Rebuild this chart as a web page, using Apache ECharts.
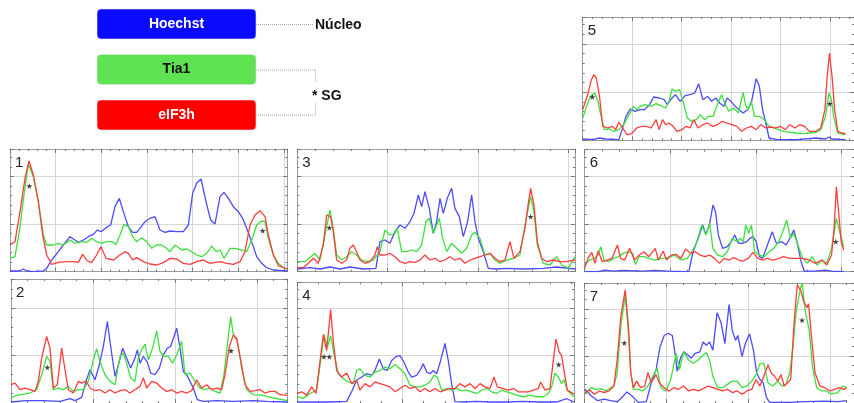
<!DOCTYPE html>
<html><head><meta charset="utf-8">
<script src="https://cdn.jsdelivr.net/npm/echarts@6/dist/echarts.min.js"></script>
<style>html,body{margin:0;padding:0;background:#fff}#c{width:854px;height:403px}</style>
</head><body><div id="c"></div>
<script>
// Intensity profiles, x and y (units: 1/3 px of the reference)
const legendNames = ["Hoechst", "Tia1", "eIF3h"];
const legendNotes = ["Núcleo", "* SG"];
const panelLabels = ["1", "2", "3", "4", "5", "6", "7"];

const p1Red = [[0,80],[15,90],[30,180],[45,280],[57,332],[70,290],[85,210],[98,110],[110,50],[125,22],[145,28],[170,30],[190,30],[205,28],[218,52],[232,32],[245,28],[260,50],[273,75],[288,40],[310,35],[330,50],[345,60],[355,55],[368,35],[380,42],[400,30],[420,23],[440,20],[460,27],[480,40],[500,38],[520,25],[540,22],[560,30],[580,35],[600,25],[630,30],[650,25],[670,22],[690,30],[705,60],[720,140],[735,170],[750,183],[765,165],[775,110],[790,50],[805,18],[820,12],[832,8]];
const p1Green = [[0,40],[15,45],[28,120],[42,230],[55,322],[70,285],[85,210],[100,110],[110,80],[130,80],[145,85],[160,80],[180,95],[195,85],[215,90],[230,88],[245,100],[260,90],[275,85],[290,90],[305,90],[318,82],[330,110],[342,142],[355,135],[368,105],[380,90],[395,102],[410,90],[425,70],[440,80],[455,80],[470,70],[480,60],[495,80],[515,65],[530,68],[545,60],[560,50],[575,45],[590,55],[605,77],[618,60],[630,65],[642,40],[660,70],[675,70],[695,65],[710,60],[725,95],[740,140],[755,152],[765,150],[775,100],[790,50],[805,25],[820,12],[832,8]];
const p1Blue = [[0,2],[30,2],[40,8],[50,2],[70,0],[100,2],[110,10],[125,35],[145,60],[160,80],[180,105],[195,95],[205,88],[220,95],[235,105],[250,112],[262,125],[273,120],[288,132],[302,140],[315,195],[328,220],[340,180],[355,135],[368,118],[380,118],[390,130],[405,150],[420,160],[435,165],[450,125],[465,118],[480,122],[500,120],[520,120],[535,140],[548,235],[560,265],[573,278],[588,210],[602,155],[615,143],[630,225],[642,238],[655,220],[670,195],[685,180],[698,160],[712,125],[725,90],[740,45],[755,25],[770,12],[790,5],[810,4],[832,2]];
const p1Stars = [[58,257],[758,123]];

const p2Red = [[0,55],[12,60],[27,40],[42,45],[57,40],[72,35],[82,65],[92,135],[107,200],[117,165],[127,45],[139,55],[152,165],[162,100],[172,40],[187,30],[202,65],[212,60],[225,67],[237,45],[252,37],[267,40],[282,30],[297,40],[312,30],[327,37],[342,40],[357,30],[372,40],[387,50],[397,75],[407,45],[422,65],[437,60],[452,45],[467,35],[482,40],[497,30],[512,35],[527,30],[542,37],[557,70],[572,45],[587,55],[602,40],[617,45],[632,40],[642,85],[655,170],[667,205],[677,195],[689,130],[702,55],[717,35],[732,37],[747,40],[762,30],[777,35],[792,35],[807,25],[829,23]];
const p2Green = [[0,15],[17,23],[37,27],[57,30],[77,40],[92,85],[107,140],[117,125],[127,40],[142,45],[157,40],[172,50],[187,35],[202,40],[217,40],[232,65],[247,130],[257,163],[267,125],[282,85],[297,65],[312,55],[327,140],[337,150],[347,120],[359,75],[372,65],[382,135],[392,160],[402,177],[412,130],[425,165],[437,217],[447,155],[459,140],[472,140],[485,120],[497,145],[512,185],[522,85],[537,90],[552,65],[567,45],[582,40],[597,45],[612,35],[627,30],[639,85],[649,175],[659,260],[667,205],[679,185],[692,105],[707,40],[727,25],[757,23],[787,15],[829,7]];
const p2Blue = [[0,3],[47,7],[97,7],[147,5],[177,13],[192,7],[212,17],[225,65],[237,100],[252,70],[265,115],[277,170],[289,245],[299,170],[312,80],[325,125],[335,165],[347,135],[359,105],[372,135],[379,160],[387,120],[397,140],[409,123],[419,90],[432,85],[445,105],[457,145],[469,165],[479,170],[489,200],[497,225],[507,165],[517,95],[527,85],[537,65],[547,45],[559,10],[577,5],[617,7],[667,5],[727,7],[767,5],[829,3]];
const p2Stars = [[109,107],[660,157]];

const p3Red = [[0,12],[18,12],[33,25],[48,40],[63,25],[78,80],[88,170],[100,165],[108,120],[118,35],[133,25],[148,35],[158,70],[168,80],[178,60],[188,35],[203,25],[218,30],[233,50],[240,75],[248,50],[263,50],[278,55],[293,45],[308,30],[323,25],[338,30],[353,28],[368,35],[383,50],[398,35],[413,40],[428,30],[443,35],[458,45],[473,35],[488,40],[503,25],[518,35],[533,40],[548,45],[563,50],[578,55],[593,40],[608,30],[623,35],[638,90],[650,40],[668,60],[683,130],[693,205],[700,250],[710,200],[720,90],[733,40],[748,30],[768,35],[788,30],[808,30],[833,35]];
const p3Green = [[0,30],[23,30],[53,55],[68,35],[83,110],[98,185],[108,130],[118,50],[133,35],[148,45],[163,60],[178,50],[183,55],[193,35],[208,30],[228,35],[248,60],[263,125],[278,110],[293,115],[300,130],[313,60],[328,60],[343,65],[358,60],[373,80],[386,150],[396,160],[408,115],[418,140],[426,160],[436,100],[448,60],[463,85],[478,70],[493,55],[508,70],[523,110],[533,118],[548,100],[563,50],[578,55],[593,35],[608,25],[628,35],[648,40],[668,50],[683,140],[700,225],[710,180],[720,80],[738,25],[758,20],[778,45],[793,20],[813,10],[833,45]];
const p3Blue = [[0,8],[38,12],[68,8],[98,14],[128,8],[158,14],[198,8],[236,10],[248,90],[263,95],[278,85],[293,120],[308,140],[323,130],[338,150],[350,175],[363,230],[373,195],[383,240],[396,190],[408,115],[418,150],[428,220],[438,175],[450,220],[463,250],[473,190],[486,165],[498,105],[511,150],[523,230],[533,150],[543,100],[558,60],[573,10],[598,8],[628,10],[678,8],[738,10],[778,14],[833,8]];
const p3Stars = [[96,132],[700,165]];

const p4Red = [[0,29],[13,34],[28,24],[43,49],[56,29],[66,109],[78,207],[88,159],[100,284],[108,189],[118,99],[133,79],[148,91],[163,59],[178,69],[188,39],[203,59],[218,49],[233,64],[248,59],[263,54],[278,49],[293,34],[308,44],[323,54],[338,44],[353,49],[368,34],[383,44],[398,34],[413,44],[428,34],[443,39],[458,44],[473,44],[488,59],[503,49],[518,59],[533,44],[548,59],[563,49],[578,44],[590,79],[600,49],[618,44],[633,39],[648,44],[663,34],[678,34],[693,34],[708,39],[723,44],[730,64],[743,39],[758,44],[768,129],[776,194],[786,154],[793,144],[800,99],[810,39],[830,27]];
const p4Green = [[0,19],[18,14],[38,29],[58,39],[70,129],[80,209],[90,169],[100,204],[110,149],[123,89],[138,74],[153,64],[168,59],[178,99],[188,104],[203,84],[218,79],[233,94],[248,99],[263,109],[278,104],[293,117],[308,104],[323,89],[338,54],[353,49],[368,49],[383,54],[398,64],[410,84],[420,79],[433,39],[448,44],[463,39],[478,44],[493,37],[508,39],[523,34],[538,29],[553,39],[568,44],[583,34],[598,29],[613,39],[628,34],[643,29],[658,24],[678,19],[698,24],[718,19],[738,19],[753,29],[763,49],[773,91],[783,79],[793,59],[800,71],[810,39],[830,19]];
const p4Blue = [[0,3],[38,3],[98,3],[148,5],[163,34],[178,69],[193,79],[208,89],[223,84],[233,99],[246,134],[258,104],[270,99],[283,129],[296,141],[308,144],[320,124],[333,94],[343,79],[358,84],[368,99],[378,119],[388,94],[398,89],[408,99],[418,89],[430,129],[443,181],[453,129],[463,59],[473,4],[498,3],[538,5],[578,3],[628,3],[678,5],[728,3],[778,3],[808,13],[830,3]];
const p4Stars = [[80,141],[96,141],[784,117]];

const p5Red = [[0,92],[14,132],[27,182],[34,197],[42,187],[52,132],[62,42],[77,37],[92,42],[102,32],[112,54],[124,37],[137,17],[152,20],[167,37],[182,42],[197,42],[212,37],[227,62],[237,32],[247,62],[257,47],[267,52],[280,42],[292,27],[307,32],[320,42],[332,37],[344,62],[357,37],[372,47],[387,52],[402,42],[417,47],[432,57],[447,52],[462,47],[477,42],[492,27],[507,37],[522,42],[537,32],[552,47],[567,37],[582,40],[597,37],[612,42],[627,32],[642,47],[657,37],[672,47],[687,42],[702,27],[722,27],[737,37],[750,92],[757,192],[764,262],[772,192],[780,92],[790,27],[802,22],[814,20]];
const p5Green = [[0,67],[12,102],[24,132],[37,142],[47,117],[57,72],[67,32],[82,34],[97,27],[112,32],[127,47],[142,74],[157,102],[167,92],[177,102],[192,107],[212,102],[227,110],[242,104],[257,97],[267,117],[277,154],[287,147],[300,152],[312,112],[324,67],[337,57],[352,62],[364,77],[377,62],[390,72],[404,72],[417,107],[430,137],[440,112],[452,87],[467,97],[482,82],[497,144],[504,107],[512,92],[522,117],[532,72],[547,72],[562,62],[577,42],[592,37],[607,32],[622,27],[642,24],[662,22],[682,20],[702,22],[722,24],[737,32],[752,72],[762,142],[770,122],[777,72],[790,22],[814,17]];
const p5Blue = [[0,4],[32,2],[52,7],[72,4],[112,2],[122,32],[134,72],[147,94],[162,87],[177,92],[192,92],[207,107],[220,130],[237,127],[252,122],[262,107],[274,124],[287,137],[302,117],[317,134],[332,137],[347,142],[359,170],[372,122],[387,132],[399,117],[412,127],[424,112],[437,102],[447,127],[459,117],[472,102],[484,92],[497,82],[510,92],[522,112],[537,185],[547,162],[557,92],[567,52],[577,7],[602,2],[662,2],[722,7],[752,4],[762,10],[772,4],[814,2]];
const p5Stars = [[30,130],[765,110]];

const p6Red = [[0,10],[10,40],[22,58],[32,25],[42,62],[55,30],[70,35],[85,40],[102,80],[112,40],[125,35],[140,70],[155,35],[170,50],[185,60],[200,45],[220,70],[230,35],[245,62],[255,35],[270,50],[285,52],[300,40],[315,68],[330,55],[345,60],[360,50],[375,45],[390,50],[405,40],[420,25],[435,40],[450,35],[465,42],[480,35],[495,32],[510,40],[525,58],[540,40],[555,35],[570,40],[585,35],[600,38],[620,45],[640,40],[660,40],[680,40],[700,35],[720,25],[740,35],[755,20],[770,50],[778,130],[785,255],[792,180],[800,90],[808,65]];
const p6Green = [[0,20],[15,35],[30,40],[42,52],[50,75],[60,35],[75,30],[90,40],[105,45],[120,55],[135,60],[150,55],[158,22],[170,45],[185,45],[200,40],[220,35],[240,40],[260,42],[280,50],[300,35],[320,40],[335,60],[350,90],[365,140],[378,110],[390,145],[400,70],[415,50],[430,45],[445,60],[460,100],[475,90],[485,100],[495,90],[502,140],[512,115],[520,140],[530,60],[545,50],[560,45],[575,60],[590,70],[605,90],[618,120],[630,155],[642,100],[652,115],[665,80],[680,40],[695,25],[710,45],[725,20],[740,35],[755,25],[770,70],[785,160],[795,120],[808,75]];
const p6Blue = [[0,0],[40,0],[65,5],[90,2],[120,4],[180,2],[220,4],[260,2],[310,0],[325,2],[338,60],[352,95],[368,140],[378,112],[390,145],[400,200],[408,180],[417,110],[430,70],[445,75],[460,95],[468,110],[480,85],[492,85],[505,90],[515,100],[525,105],[535,90],[545,45],[555,40],[570,80],[585,120],[598,85],[615,90],[628,80],[640,100],[652,125],[662,90],[675,30],[685,2],[720,2],[750,5],[770,2],[808,0]];
const p6Stars = [[783,90]];

const p7Red = [[0,32],[15,40],[30,27],[45,37],[60,32],[75,37],[90,52],[100,132],[112,272],[125,347],[135,232],[142,92],[150,47],[160,67],[172,47],[185,52],[195,94],[205,62],[220,87],[230,62],[245,47],[260,37],[275,47],[290,42],[305,52],[320,37],[335,42],[350,37],[365,44],[380,52],[395,47],[410,42],[425,37],[440,42],[455,32],[470,37],[485,27],[500,37],[515,42],[528,72],[540,52],[552,82],[565,117],[575,92],[585,82],[595,67],[605,87],[615,52],[625,62],[635,72],[645,242],[655,362],[665,347],[675,312],[685,292],[690,304],[700,192],[710,92],[725,52],[740,47],[755,37],[770,42],[785,47],[800,42],[808,47]];
const p7Green = [[0,27],[20,47],[35,42],[50,44],[65,37],[80,47],[90,52],[100,92],[112,242],[125,330],[135,212],[142,92],[150,42],[165,42],[180,37],[195,52],[210,82],[223,107],[235,47],[250,37],[265,72],[282,152],[292,102],[305,157],[320,132],[335,122],[350,132],[365,147],[375,154],[385,132],[395,82],[410,47],[425,47],[440,57],[455,67],[470,67],[485,47],[500,52],[515,67],[528,87],[540,120],[552,122],[565,62],[580,52],[595,67],[608,52],[620,57],[632,92],[642,172],[652,282],[665,352],[670,367],[680,282],[692,222],[702,112],[715,47],[730,37],[745,37],[760,27],[780,32],[795,52],[808,47]];
const p7Blue = [[0,42],[20,22],[40,7],[60,12],[80,7],[100,4],[115,17],[130,34],[145,22],[165,2],[190,4],[205,62],[220,102],[232,172],[245,207],[258,214],[270,207],[280,142],[285,97],[295,137],[305,157],[318,147],[328,137],[340,152],[355,157],[365,187],[375,177],[385,187],[395,162],[408,277],[420,247],[432,182],[445,302],[455,222],[465,192],[472,207],[485,142],[495,182],[508,212],[520,162],[530,92],[540,72],[550,62],[560,17],[570,2],[630,2],[680,4],[740,6],[780,4],[808,7]];
const p7Stars = [[122,184],[670,254]];

const panelData = {
  "1": [p1Blue, p1Green, p1Red, p1Stars],
  "2": [p2Blue, p2Green, p2Red, p2Stars],
  "3": [p3Blue, p3Green, p3Red, p3Stars],
  "4": [p4Blue, p4Green, p4Red, p4Stars],
  "5": [p5Blue, p5Green, p5Red, p5Stars],
  "6": [p6Blue, p6Green, p6Red, p6Stars],
  "7": [p7Blue, p7Green, p7Red, p7Stars]
};

// layout (pixel placement of each panel + axis extents/grid spacing)
const layout = {
  "1": {left: 10, top: 149, xMax: 832, xInt: 137, yMax: 368, yInt: 142.5},
  "2": {left: 11, top: 279, xMax: 829, xInt: 246, yMax: 373, yInt: 143},
  "3": {left: 297.3, top: 149, xMax: 833, xInt: 271, yMax: 368, yInt: 143},
  "4": {left: 297.3, top: 282.3, xMax: 830, xInt: 316, yMax: 367, yInt: 144},
  "5": {left: 582.7, top: 17, xMax: 840, xInt: 153, yMax: 370, yInt: 144.5},
  "6": {left: 584.7, top: 149.7, xMax: 840, xInt: 267, yMax: 366, yInt: 143},
  "7": {left: 584.7, top: 283, xMax: 830, xInt: 252, yMax: 368, yInt: 144}
};
const colors = ['#4b4bff', '#3ee03e', '#ff3c3c'];
const STAR = 'path://M50,0 L61,35 L98,35 L68,57 L79,91 L50,70 L21,91 L32,57 L2,35 L39,35 Z';

const grids = [], xAxes = [], yAxes = [], series = [], graphics = [];
const frame = '#9c9c9c', tickC = '#777';
panelLabels.forEach((lab, i) => {
  const L = layout[lab];
  grids.push({left: L.left, top: L.top, width: L.xMax / 3, height: L.yMax / 3, containLabel: false});
  const common = {type: 'value', gridIndex: i, min: 0, axisLabel: {show: false},
    axisLine: {show: true, onZero: false, lineStyle: {color: frame, width: 1}},
    axisTick: {show: true, inside: true, length: 4, lineStyle: {color: tickC}},
    minorTick: {show: true, splitNumber: 5, length: 2, lineStyle: {color: tickC}}};
  xAxes.push(Object.assign({}, common, {position: 'bottom', max: L.xMax, interval: L.xInt,
    splitLine: {show: true, lineStyle: {color: '#d6d6d6', width: 1}}}));
  xAxes.push(Object.assign({}, common, {position: 'top', max: L.xMax, interval: L.xInt, splitLine: {show: false}}));
  yAxes.push(Object.assign({}, common, {position: 'left', max: L.yMax, interval: L.yInt,
    splitLine: {show: true, lineStyle: {color: '#d6d6d6', width: 1}}}));
  yAxes.push(Object.assign({}, common, {position: 'right', max: L.yMax, interval: L.yInt, splitLine: {show: false}}));
  const d = panelData[lab];
  for (let s = 0; s < 3; s++) {
    series.push({type: 'line', xAxisIndex: 2 * i, yAxisIndex: 2 * i, data: d[s], showSymbol: false,
      clip: true, silent: true, lineStyle: {color: colors[s], width: 1.3}, z: 2 + s});
  }
  series.push({type: 'scatter', xAxisIndex: 2 * i, yAxisIndex: 2 * i, data: d[3], symbol: STAR,
    symbolSize: 6, itemStyle: {color: '#111'}, z: 10, silent: true});
  graphics.push({type: 'text', left: L.left + 5, top: L.top + 6,
    style: {text: lab, font: '15px "Liberation Sans", Arial, sans-serif', fill: '#222'}});
});

// legend boxes
const boxFill = ['#0a0aff', '#5fe352', '#ff0000'];
const boxText = ['#ffffff', '#111111', '#ffffff'];
const boxY = [9, 54.5, 100];
legendNames.forEach((n, k) => {
  graphics.push({type: 'rect', shape: {x: 97, y: boxY[k], width: 159, height: 30, r: 4},
    style: {fill: boxFill[k], stroke: '#e0e0e0', lineWidth: 0.6}});
  graphics.push({type: 'text', x: 176.5, y: boxY[k] + 15,
    style: {text: n, font: 'bold 14px "Liberation Sans", Arial, sans-serif', fill: boxText[k],
      align: 'center', verticalAlign: 'middle'}});
});
const dot = {stroke: '#a8a8a8', lineWidth: 1, lineDash: [1, 1], fill: null};
graphics.push({type: 'polyline', shape: {points: [[256, 24.5], [313, 24.5]]}, style: dot});
graphics.push({type: 'polyline', shape: {points: [[256, 70], [315.5, 70], [315.5, 82]]}, style: dot});
graphics.push({type: 'polyline', shape: {points: [[256, 115], [315.5, 115], [315.5, 103]]}, style: dot});
graphics.push({type: 'text', x: 315, y: 25, style: {text: legendNotes[0],
  font: 'bold 14px "Liberation Sans", Arial, sans-serif', fill: '#111', verticalAlign: 'middle'}});
graphics.push({type: 'text', x: 312, y: 96, style: {text: legendNotes[1],
  font: 'bold 14px "Liberation Sans", Arial, sans-serif', fill: '#111', verticalAlign: 'middle'}});

const chart = echarts.init(document.getElementById('c'), null, {renderer: 'canvas'});
chart.setOption({animation: false, backgroundColor: '#fff', grid: grids, xAxis: xAxes, yAxis: yAxes,
  series: series, graphic: graphics});
</script></body></html>
